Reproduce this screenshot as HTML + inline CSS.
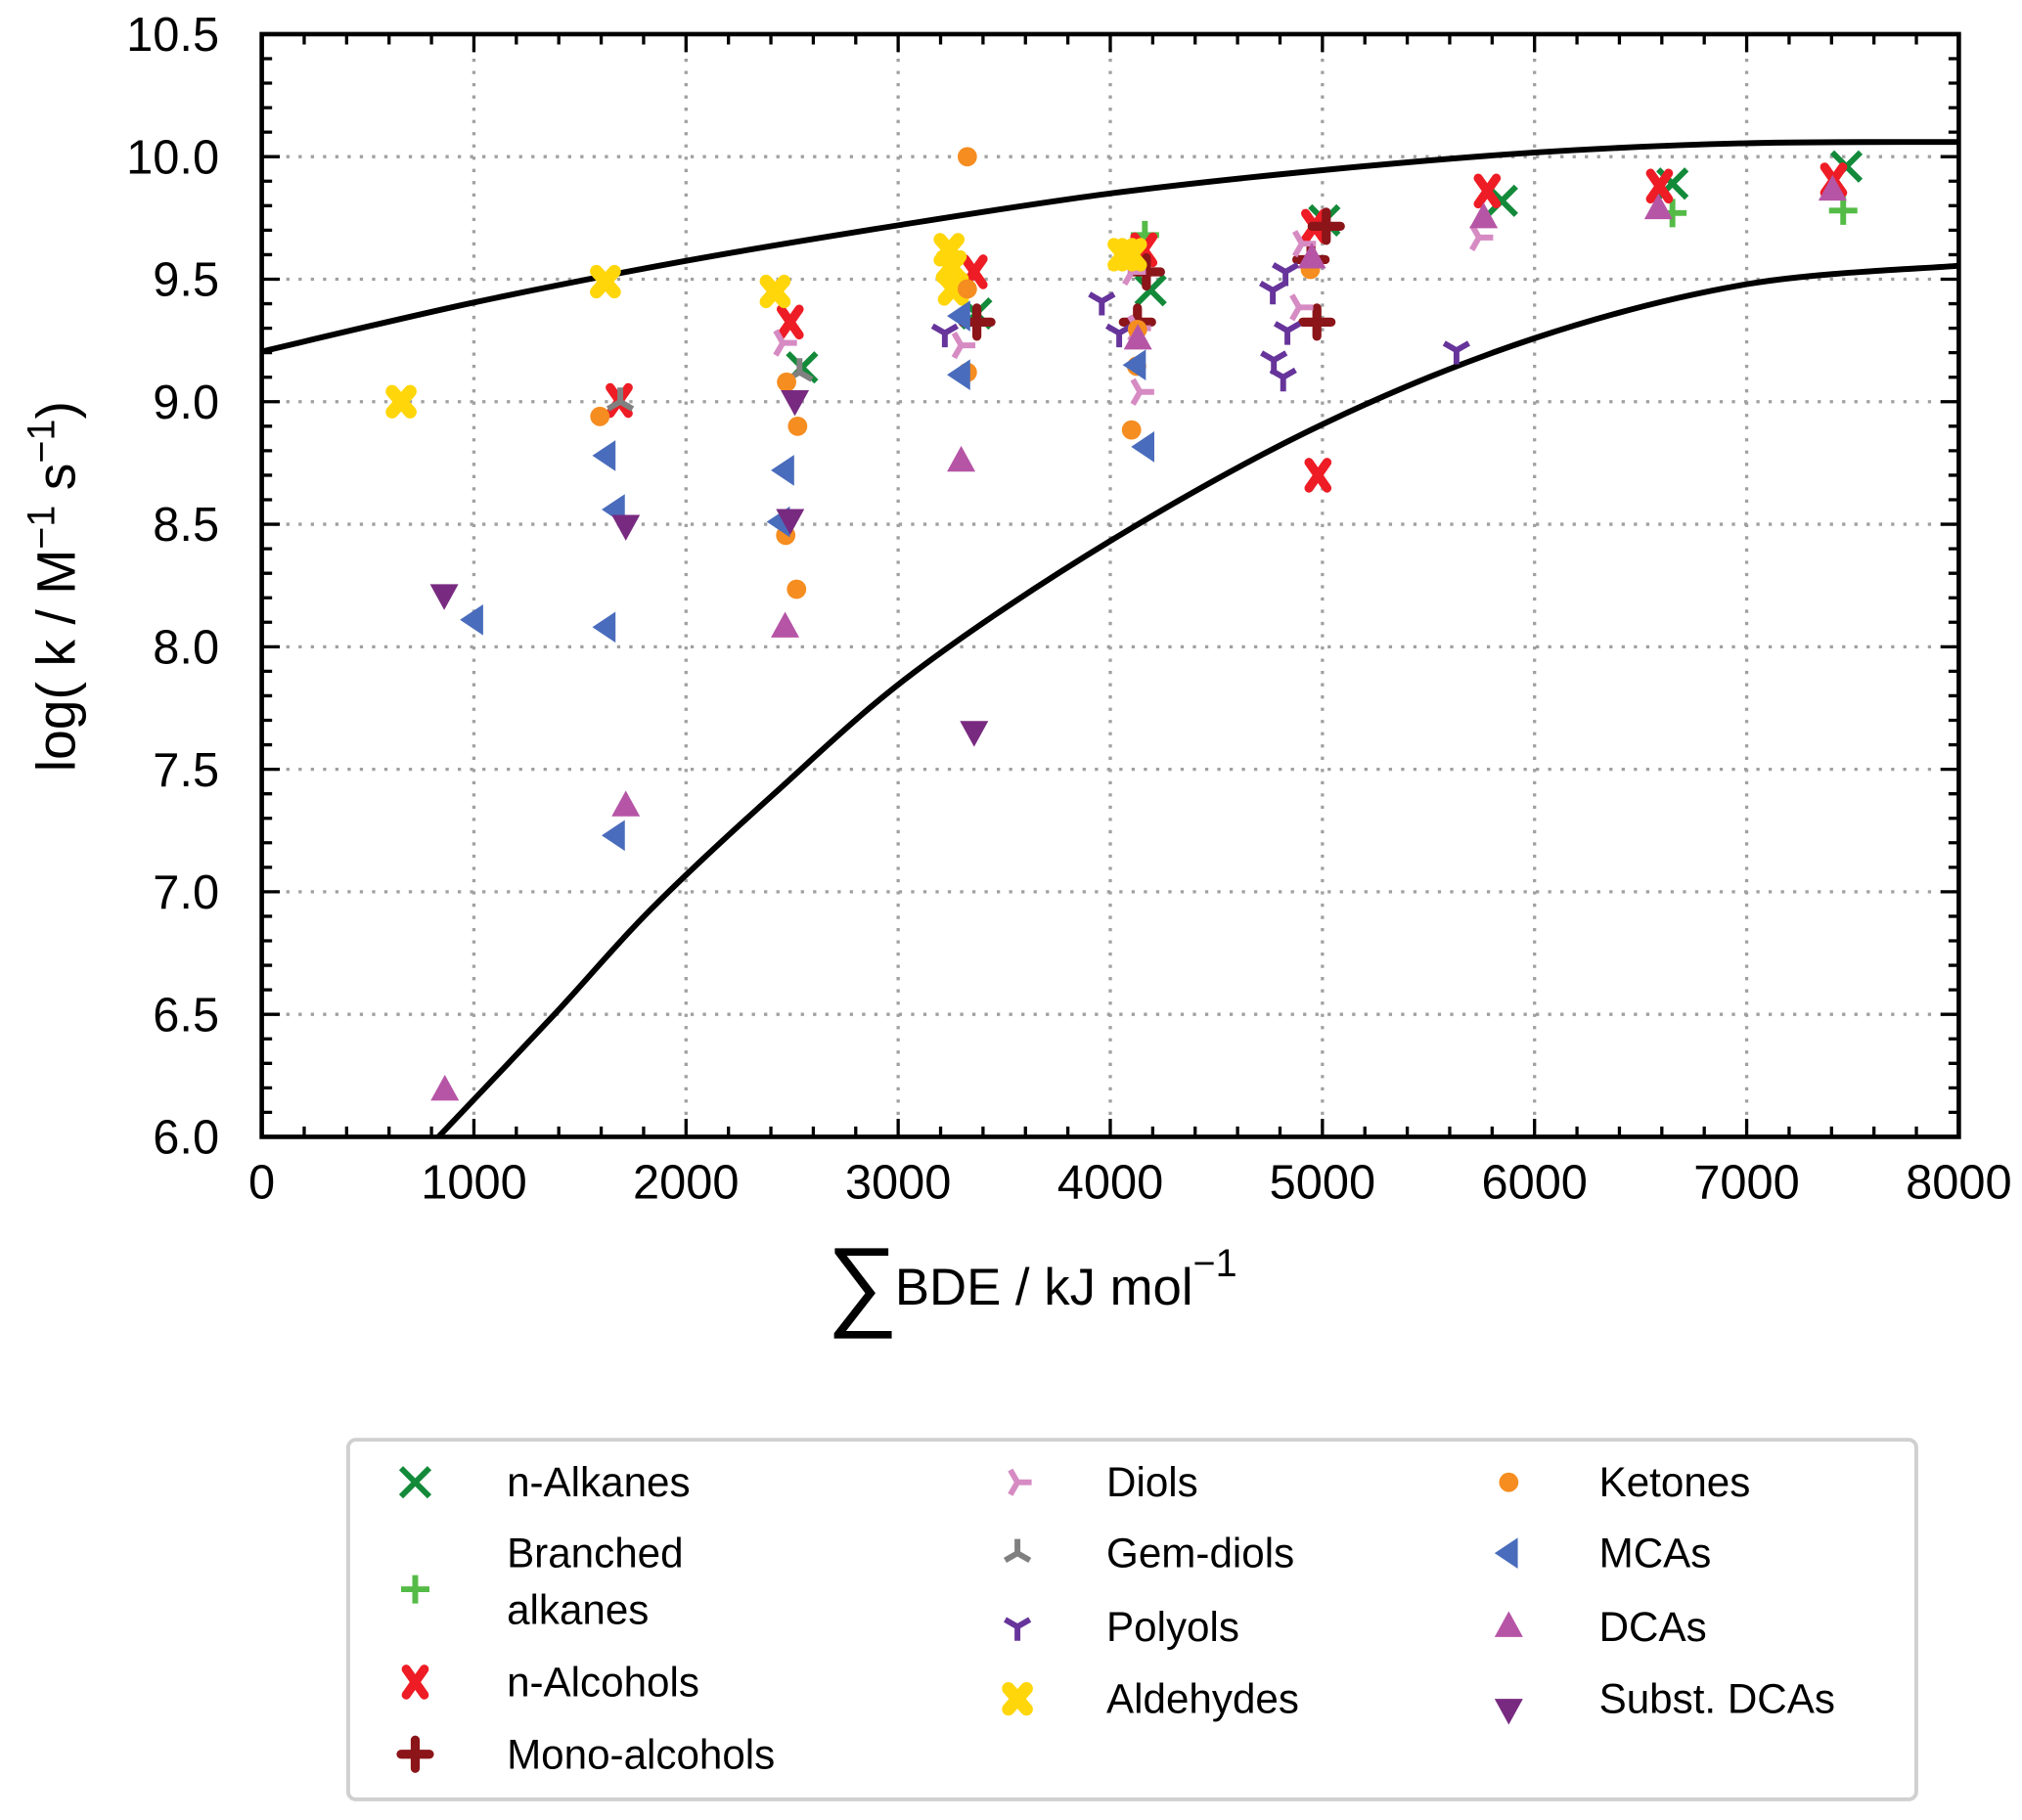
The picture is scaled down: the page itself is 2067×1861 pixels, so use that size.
<!DOCTYPE html>
<html><head><meta charset="utf-8"><style>
html,body{margin:0;padding:0;background:#fff}
svg{display:block}
text{font-family:"Liberation Sans",sans-serif;fill:#000}
</style></head><body>
<svg id="chart" width="2067" height="1861" viewBox="0 0 1568 1412" preserveAspectRatio="none" xmlns="http://www.w3.org/2000/svg">
<g id="grid"></g>
<g id="curves"></g>
<g id="points"></g>
<g id="axes"></g>
<text transform="translate(58,455) rotate(-90)" text-anchor="middle" font-size="42">log( k / M<tspan dy="-16" font-size="30">−1</tspan><tspan dy="16"> s</tspan><tspan dy="-16" font-size="30">−1</tspan><tspan dy="16">)</tspan></text>
<g>
<text x="641" y="1022" font-size="78">∑</text>
<text x="694" y="1012" font-size="40">BDE / kJ mol<tspan dy="-22" font-size="30">−1</tspan></text>
</g>
<rect x="270" y="1117" width="1216" height="279" rx="6" fill="#fff" stroke="#d0d0d0" stroke-width="3"/>
<g id="legend"></g>
</svg>
<script>
const xTicks=[0,1000,2000,3000,4000,5000,6000,7000,8000];
const yTicks=[6.0,6.5,7.0,7.5,8.0,8.5,9.0,9.5,10.0,10.5];
const upperX=[0,1000,2000,3000,4000,5000,6000,7000,8000];
const upperY=[9.205,9.405,9.575,9.72,9.85,9.945,10.017,10.055,10.06];
const lowerX=[833,1380,1836,2415,3082,4006,5006,6003,7003,8000];
const lowerY=[6.0,6.5,6.93,7.4,7.9,8.435,8.91,9.26,9.48,9.555];
const seriesNames=["n-Alkanes","Branched alkanes","n-Alcohols","Mono-alcohols","Diols","Gem-diols","Polyols","Aldehydes","Ketones","MCAs","DCAs","Subst. DCAs"];
const nAlkanesX=[2547,3368,4190,5009,5846,6650,7470];
const nAlkanesY=[9.14,9.36,9.455,9.74,9.82,9.89,9.96];
const branchedX=[4163,6650,7455];
const branchedY=[9.68,9.77,9.78];
const nAlcoholsX=[2491,1685,3358,4158,4963,4979,5777,6589,7410];
const nAlcoholsY=[9.325,9.005,9.53,9.62,9.716,8.70,9.86,9.88,9.905];
const monoX=[3371,4170,4128,5018,4974,4946];
const monoY=[9.325,9.53,9.325,9.716,9.325,9.58];
const diolsX=[2456,3297,4101,4125,4140,4903,4890,5738];
const diolsY=[9.24,9.23,9.53,9.30,9.04,9.645,9.385,9.67];
const gemX=[1690,2535];
const gemY=[9.0,9.12];
const polyolsX=[3220,3960,4042,4766,4826,4835,4771,4815,5632];
const polyolsY=[9.28,9.41,9.28,9.455,9.53,9.29,9.17,9.10,9.21];
const aldehydesX=[657,1620,2420,3240,3250,3260,4060,4100];
const aldehydesY=[9.0,9.49,9.45,9.62,9.55,9.46,9.6,9.6];
const ketonesX=[3326,1594,2474,2526,2470,2521,3326,3326,4128,4100,4943,4124];
const ketonesY=[10.0,8.94,9.08,8.90,8.455,8.235,9.46,9.12,9.295,8.885,9.54,9.145];
const mcasX=[1625,1669,2467,2447,1625,1001,1669,3297,3297,4125,4165];
const mcasY=[8.78,8.56,8.72,8.51,8.08,8.11,7.23,9.11,9.35,9.15,8.816];
const dcasX=[3297,2467,1716,863,4130,4950,5760,6584,7405];
const dcasY=[8.757,8.08,7.35,6.19,9.255,9.586,9.75,9.787,9.863];
const substX=[860,1716,2513,2491,3358];
const substY=[8.213,8.496,9.005,8.52,7.655];

const NS="http://www.w3.org/2000/svg";
const X0=203,X1=1519,Y0=882,Y1=26.5;
function sx(v){return X0+(v-0)/(8000-0)*(X1-X0);}
function sy(v){return Y0-(v-6.0)/(10.5-6.0)*(Y0-Y1);}
function mk(tag,attrs,parent){const e=document.createElementNS(NS,tag);for(const k in attrs)e.setAttribute(k,attrs[k]);parent.appendChild(e);return e;}

const grid=document.getElementById('grid');
const axes=document.getElementById('axes');
xTicks.forEach(t=>{
  const l=mk('line',{x1:sx(t),x2:sx(t),y1:Y1,y2:Y0,stroke:'#a0a0a0','stroke-width':2.5,'stroke-dasharray':'2.5 7'},grid);
  
  
  const tx=mk('text',{x:sx(t),y:930,'text-anchor':'middle','font-size':37},axes);
  tx.textContent=String(t);
  
  
});
yTicks.forEach(t=>{
  const l=mk('line',{x1:X0,x2:X1,y1:sy(t),y2:sy(t),stroke:'#a0a0a0','stroke-width':2.5,'stroke-dasharray':'2.5 7'},grid);
  
  
  const tx=mk('text',{x:170,y:sy(t)+13,'text-anchor':'end','font-size':37},axes);
  tx.textContent=t.toFixed(1);
  
  
});
let td='';
for(let v=0;v<=8000;v+=200){const x=sx(v);const L=(v%1000===0)?14:8;td+=`M${x},${Y0}v${-L}M${x},${Y1}v${L}`;}
for(let i=0;i<=45;i++){const v=6+i*0.1;const y=sy(v);const L=(i%5===0)?14:8;td+=`M${X0},${y}h${L}M${X1},${y}h${-L}`;}
const ticks=mk('path',{d:td,stroke:'#000','stroke-width':2.5,fill:'none'},axes);


const frame=mk('rect',{x:X0,y:Y1,width:X1-X0,height:Y0-Y1,fill:'none',stroke:'#000','stroke-width':3.5},axes);



function smoothPath(xs,ys){
  const p=xs.map((x,i)=>[sx(x),sy(ys[i])]);
  let d=`M${p[0][0]},${p[0][1]}`;
  for(let i=0;i<p.length-1;i++){
    const a=p[Math.max(0,i-1)],b=p[i],c=p[i+1],e=p[Math.min(p.length-1,i+2)];
    const c1=[b[0]+(c[0]-a[0])/6,b[1]+(c[1]-a[1])/6],c2=[c[0]-(e[0]-b[0])/6,c[1]-(e[1]-b[1])/6];
    d+=`C${c1[0]},${c1[1]} ${c2[0]},${c2[1]} ${c[0]},${c[1]}`;
  }
  return d;
}
const curves=document.getElementById('curves');
const cu=mk('path',{d:smoothPath(upperX,upperY),stroke:'#000','stroke-width':4.5,fill:'none'},curves);


const cl=mk('path',{d:smoothPath(lowerX,lowerY),stroke:'#000','stroke-width':4.5,fill:'none'},curves);



function marker(type,color,x,y,g){
  const s=11;let e;
  if(type==='x'){e=mk('path',{d:`M${x-s},${y-s}L${x+s},${y+s}M${x-s},${y+s}L${x+s},${y-s}`,stroke:color,'stroke-width':4.5,fill:'none'},g);}
  else if(type==='X'){e=mk('path',{d:`M${x-7},${y-10}L${x+7},${y+10}M${x-7},${y+10}L${x+7},${y-10}`,stroke:color,'stroke-width':7,'stroke-linecap':'round',fill:'none'},g);}
  else if(type==='XF'){e=mk('path',{d:`M${x-7},${y-8}L${x+7},${y+8}M${x-7},${y+8}L${x+7},${y-8}`,stroke:color,'stroke-width':10,'stroke-linecap':'round',fill:'none'},g);}
  else if(type==='+'){e=mk('path',{d:`M${x-s},${y}H${x+s}M${x},${y-s}V${y+s}`,stroke:color,'stroke-width':4.5,fill:'none'},g);}
  else if(type==='P'){e=mk('path',{d:`M${x-s},${y}H${x+s}M${x},${y-s}V${y+s}`,stroke:color,'stroke-width':7,'stroke-linecap':'round',fill:'none'},g);}
  else if(type==='triR'){e=mk('path',{d:`M${x},${y}H${x+s}M${x},${y}L${x-s*0.5},${y-s*0.87}M${x},${y}L${x-s*0.5},${y+s*0.87}`,stroke:color,'stroke-width':4.5,fill:'none'},g);}
  else if(type==='triU'){e=mk('path',{d:`M${x},${y}V${y-s}M${x},${y}L${x-s*0.87},${y+s*0.5}M${x},${y}L${x+s*0.87},${y+s*0.5}`,stroke:color,'stroke-width':4.5,fill:'none'},g);}
  else if(type==='triD'){e=mk('path',{d:`M${x},${y}V${y+s}M${x},${y}L${x-s*0.87},${y-s*0.5}M${x},${y}L${x+s*0.87},${y-s*0.5}`,stroke:color,'stroke-width':4.5,fill:'none'},g);}
  else if(type==='o'){e=mk('circle',{cx:x,cy:y,r:7.5,fill:color},g);}
  else if(type==='<'){e=mk('path',{d:`M${x-11},${y}L${x+7},${y-12}L${x+7},${y+12}Z`,fill:color},g);}
  else if(type==='^'){e=mk('path',{d:`M${x},${y-12}L${x+11},${y+8}L${x-11},${y+8}Z`,fill:color},g);}
  else if(type==='v'){e=mk('path',{d:`M${x},${y+12}L${x+11},${y-8}L${x-11},${y-8}Z`,fill:color},g);}
  return e;
}
const seriesDefs=[
 [nAlkanesX,nAlkanesY,'x','#138a3a'],
 [branchedX,branchedY,'+','#55bb47'],
 [nAlcoholsX,nAlcoholsY,'X','#ee1c25'],
 [monoX,monoY,'P','#8b1519'],
 [diolsX,diolsY,'triR','#d68bc3'],
 [gemX,gemY,'triU','#808080'],
 [polyolsX,polyolsY,'triD','#66349a'],
 [aldehydesX,aldehydesY,'XF','#ffd60a'],
 [ketonesX,ketonesY,'o','#f58d20'],
 [mcasX,mcasY,'<','#4a6cbc'],
 [dcasX,dcasY,'^','#b655a6'],
 [substX,substY,'v','#782a80']
];
const pts=document.getElementById('points');
seriesDefs.forEach((d,si)=>{
  const g=mk('g',{},pts);
  
  
  d[0].forEach((xv,i)=>{
    const m=marker(d[2],d[3],sx(xv),sy(d[1][i]),g);
    
    
  });
});
const leg=document.getElementById('legend');
const legendPos=[[322,1150,393,[1150]],[322,1233,393,[1205,1249]],[322,1305,393,[1305]],[322,1361,393,[1361]],
 [789,1150,858,[1150]],[789,1205,858,[1205]],[789,1262,858,[1262]],[789,1318,858,[1318]],
 [1170,1150,1240,[1150]],[1170,1205,1240,[1205]],[1170,1262,1240,[1262]],[1170,1326,1240,[1318]]];
const legendLabels=[["n-Alkanes"],["Branched","alkanes"],["n-Alcohols"],["Mono-alcohols"],["Diols"],["Gem-diols"],["Polyols"],["Aldehydes"],["Ketones"],["MCAs"],["DCAs"],["Subst. DCAs"]];
seriesDefs.forEach((d,i)=>{
  const p=legendPos[i];
  const g=mk('g',{},leg);
  
  
  const m=marker(d[2],d[3],p[0],p[1],g);
  
  
  legendLabels[i].forEach((s,j)=>{
    const t=mk('text',{x:p[2],y:p[3][j]+11,'font-size':32},g);
    t.textContent=s;
    
    
  });
});
</script>
</body></html>
